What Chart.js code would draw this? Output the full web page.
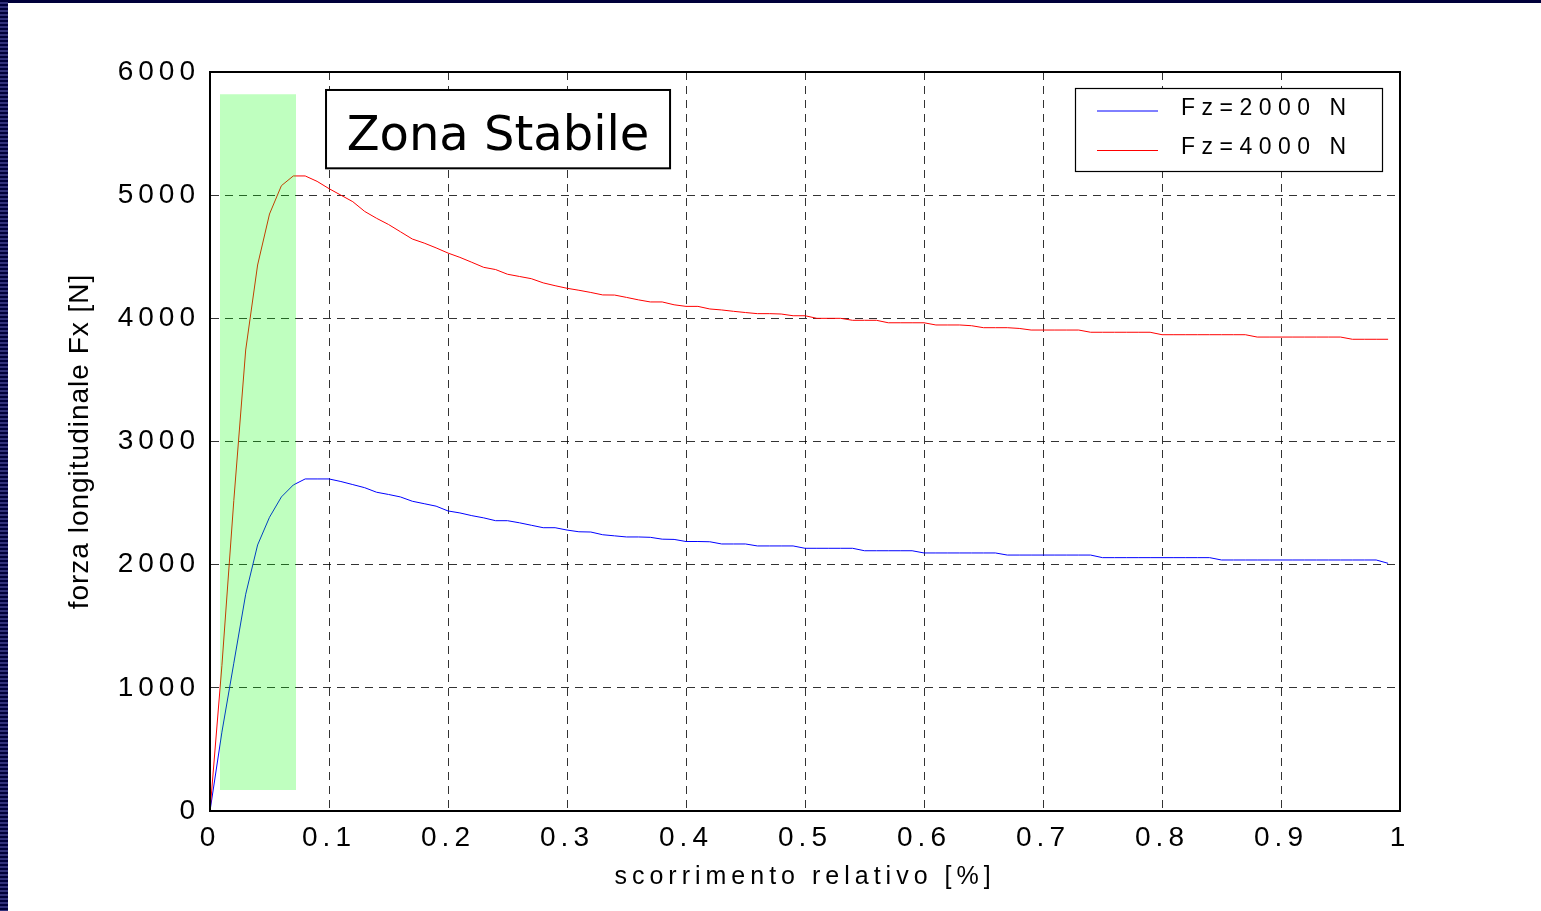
<!DOCTYPE html>
<html><head><meta charset="utf-8">
<script src="https://cdn.jsdelivr.net/npm/chart.js@4.4.0/dist/chart.umd.min.js"></script>
<style>
html,body{margin:0;padding:0;background:#fff;overflow:hidden;}
#wrap{position:relative;width:1541px;height:911px;background:#fff;}
canvas{position:absolute;left:0;top:0;}
#topband{position:absolute;left:0;top:0;width:1541px;height:3px;background:#00003a;}
#leftband{position:absolute;left:0;top:0;width:8px;height:911px;background:repeating-linear-gradient(to bottom,#00003a 0px,#00003a 2px,#30307a 2px,#30307a 4px);}
</style></head><body>
<div id="wrap"><canvas id="c" width="1541" height="911"></canvas><div id="topband"></div><div id="leftband"></div></div>
<script>
// ---- data ----
const slip = [0,0.01,0.02,0.03,0.04,0.05,0.06,0.07,0.08,0.09,
  0.10,0.11,0.12,0.13,0.14,0.15,0.16,0.17,0.18,0.19,
  0.20,0.21,0.22,0.23,0.24,0.25,0.26,0.27,0.28,0.29,
  0.30,0.31,0.32,0.33,0.34,0.35,0.36,0.37,0.38,0.39,
  0.40,0.41,0.42,0.43,0.44,0.45,0.46,0.47,0.48,0.49,
  0.50,0.51,0.52,0.53,0.54,0.55,0.56,0.57,0.58,0.59,
  0.60,0.61,0.62,0.63,0.64,0.65,0.66,0.67,0.68,0.69,
  0.70,0.71,0.72,0.73,0.74,0.75,0.76,0.77,0.78,0.79,
  0.80,0.81,0.82,0.83,0.84,0.85,0.86,0.87,0.88,0.89,
  0.90,0.91,0.92,0.93,0.94,0.95,0.96,0.97,0.98,0.99];
const fx2000 = [0,640,1200,1760,2160,2385,2550,2647,2696,2696,
  2696,2675,2650,2625,2588,2570,2550,2515,2495,2475,
  2436,2420,2398,2380,2357,2357,2340,2320,2300,2300,
  2281,2267,2265,2243,2234,2225,2225,2222,2207,2205,
  2188,2188,2186,2168,2168,2168,2152,2152,2152,2152,
  2133,2133,2133,2133,2133,2113,2113,2113,2113,2113,
  2095,2095,2095,2095,2095,2095,2095,2078,2078,2078,
  2078,2078,2078,2078,2078,2057,2057,2057,2057,2057,
  2057,2057,2057,2057,2057,2038,2038,2038,2038,2038,
  2038,2038,2038,2038,2038,2038,2038,2038,2038,2011];
const fx4000 = [0,1180,2520,3743,4433,4847,5077,5156,5156,5112,
  5053,5000,4947,4868,4812,4762,4703,4644,4611,4572,
  4530,4495,4455,4414,4396,4358,4340,4322,4288,4265,
  4244,4228,4210,4190,4189,4170,4150,4133,4133,4110,
  4097,4097,4076,4068,4057,4047,4038,4038,4035,4021,
  4021,4000,4000,4000,3984,3984,3984,3964,3964,3964,
  3964,3946,3946,3946,3940,3924,3924,3924,3918,3905,
  3905,3905,3905,3905,3887,3887,3887,3887,3887,3887,
  3867,3867,3867,3867,3867,3867,3867,3867,3848,3848,
  3848,3848,3848,3848,3848,3848,3830,3830,3830,3830];
const seriesLabels = ['Fz=2000 N', 'Fz=4000 N'];
const xTickLabels = ['0','0.1','0.2','0.3','0.4','0.5','0.6','0.7','0.8','0.9','1'];
const yTickLabels = ['0','1000','2000','3000','4000','5000','6000'];
const stableSlip = [0.0084, 0.0723];
const stableForce = [170, 5820];
const stableLabel = 'Zona Stabile';
const xTitle = 'scorrimento relativo [%]';
const yTitle = 'forza longitudinale Fx [N]';

// ---- plugins ----
const FONT = "'Liberation Sans', Arial, sans-serif";

const spacingPlugin = {
  id: 'spacing',
  beforeDraw(chart) {
    const cfg = { x: { labels: '5px', title: '5px' }, y: { labels: '5px', title: '1px' } };
    for (const id of ['x', 'y']) {
      const sc = chart.scales[id];
      if (!sc || sc._spWrapped) continue;
      sc._spWrapped = true;
      const dl = sc.drawLabels, dt = sc.drawTitle;
      sc.drawLabels = function (a) { const c = this.ctx; const p = c.letterSpacing; c.letterSpacing = cfg[id].labels; dl.call(this, a); c.letterSpacing = p || '0px'; };
      sc.drawTitle = function (a) { const c = this.ctx; const p = c.letterSpacing; c.letterSpacing = cfg[id].title; dt.call(this, a); c.letterSpacing = p || '0px'; };
    }
  }
};

const decorPlugin = {
  id: 'decor',
  afterDraw(chart) {
    const ctx = chart.ctx, a = chart.chartArea, xs = chart.scales.x, ys = chart.scales.y;
    ctx.save();
    // plot frame
    ctx.strokeStyle = '#000'; ctx.lineWidth = 2; ctx.setLineDash([]);
    ctx.strokeRect(a.left, a.top, a.right - a.left, a.bottom - a.top);

    // "Zona Stabile" label box
    const bx1 = xs.getPixelForValue(0.0975), bx2 = xs.getPixelForValue(0.3866);
    const by1 = ys.getPixelForValue(5854), by2 = ys.getPixelForValue(5218);
    ctx.fillStyle = '#fff';
    ctx.fillRect(bx1, by1, bx2 - bx1, by2 - by1);
    ctx.lineWidth = 2; ctx.strokeStyle = '#000';
    ctx.strokeRect(bx1, by1, bx2 - bx1, by2 - by1);
    ctx.fillStyle = '#000';
    ctx.font = "48px 'DejaVu Sans', Verdana, sans-serif";
    ctx.letterSpacing = '0px';
    ctx.textAlign = 'center'; ctx.textBaseline = 'alphabetic';
    ctx.fillText(stableLabel, (bx1 + bx2) / 2, by1 + 60);

    // legend
    const lw = 307, lh = 83;
    const lx = a.right - 18 - lw, ly = a.top + 16;
    ctx.fillStyle = '#fff';
    ctx.fillRect(lx, ly, lw, lh);
    ctx.lineWidth = 1.2; ctx.strokeStyle = '#000';
    ctx.strokeRect(lx + 0.5, ly + 0.5, lw, lh);
    const rows = [22.5, 62];
    chart.data.datasets.slice(0, 2).forEach((ds, i) => {
      const yy = ly + rows[i];
      ctx.strokeStyle = ds.borderColor; ctx.lineWidth = 1;
      ctx.beginPath(); ctx.moveTo(lx + 22, yy + 0.5); ctx.lineTo(lx + 83, yy + 0.5); ctx.stroke();
      ctx.fillStyle = '#000';
      ctx.font = '23px ' + FONT;
      ctx.letterSpacing = '6.5px';
      ctx.textAlign = 'left'; ctx.textBaseline = 'middle';
      ctx.fillText(ds.label, lx + 106, yy - 2);
    });
    ctx.restore();
  }
};

const chart = new Chart(document.getElementById('c'), {
  type: 'line',
  data: {
    datasets: [
      { label: seriesLabels[0], data: slip.map((s, i) => ({ x: s, y: fx2000[i] })),
        borderColor: '#0000ff', borderWidth: 1, pointRadius: 0, tension: 0, fill: false, order: 2 },
      { label: seriesLabels[1], data: slip.map((s, i) => ({ x: s, y: fx4000[i] })),
        borderColor: '#ff0000', borderWidth: 1, pointRadius: 0, tension: 0, fill: false, order: 1 },
      { label: stableLabel, data: stableSlip.map(s => ({ x: s, y: stableForce[1] })),
        fill: { value: stableForce[0] }, backgroundColor: 'rgba(0,255,0,0.25)',
        borderColor: 'rgba(0,0,0,0)', borderWidth: 0, pointRadius: 0, order: 0 }
    ]
  },
  options: {
    responsive: false, animation: false, devicePixelRatio: 1,
    layout: { padding: { top: 72, right: 141, left: 0, bottom: 0 } },
    plugins: { legend: { display: false }, tooltip: { enabled: false }, filler: { propagate: false } },
    scales: {
      x: {
        type: 'linear', min: 0, max: 1,
        afterFit(s) { s.height = 100; },
        ticks: { stepSize: 0.1, autoSkip: false, maxRotation: 0, padding: 10, color: '#000',
          font: { family: FONT, size: 28 },
          callback: (v, i) => xTickLabels[i] },
        grid: { color: 'rgba(0,0,0,0.8)', lineWidth: 1, drawTicks: false, borderDash: [8, 6] },
        border: { display: true, color: '#000', width: 2, dash: [8, 6] },
        title: { display: true, text: xTitle, color: '#000', font: { family: FONT, size: 25 }, padding: { top: 0, bottom: 19 } }
      },
      y: {
        type: 'linear', min: 0, max: 6000,
        afterFit(s) { s.width = 210; },
        ticks: { stepSize: 1000, padding: 10, color: '#000',
          font: { family: FONT, size: 28 },
          callback: (v, i) => yTickLabels[i] },
        grid: { color: 'rgba(0,0,0,0.8)', lineWidth: 1, drawTicks: false, borderDash: [8, 6] },
        border: { display: true, color: '#000', width: 2, dash: [8, 6] },
        title: { display: true, text: yTitle, color: '#000', font: { family: FONT, size: 28 }, padding: { top: 63, bottom: 0 } }
      }
    }
  },
  plugins: [spacingPlugin, decorPlugin]
});
</script>
</body></html>
